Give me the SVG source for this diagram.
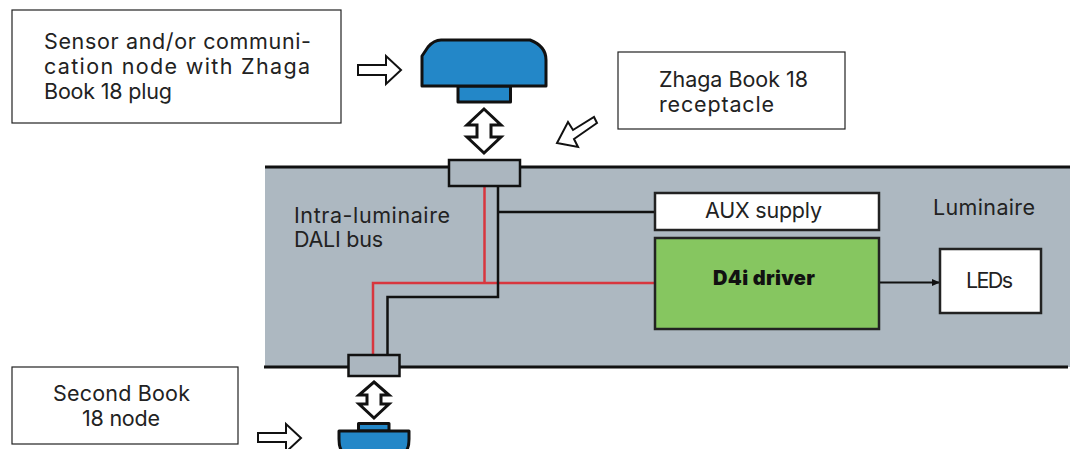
<svg xmlns="http://www.w3.org/2000/svg" width="1070" height="449" viewBox="0 0 1070 449">
<defs>
<marker id="ah" markerUnits="userSpaceOnUse" markerWidth="9" markerHeight="9" refX="8" refY="4" orient="auto"><path d="M0,0.5 L8,4 L0,7.500 Z" fill="#111"/></marker>
</defs>
<style>
text{font-family:"Inter","Liberation Sans",sans-serif;font-size:21.500px;fill:#222}
.box{fill:#fff;stroke:#222;stroke-width:1.200}
.bb{stroke:#111;stroke-width:3}
.blk{fill:none;stroke:#111;stroke-width:2.500}
.red{fill:none;stroke:#d8363e;stroke-width:2.500}
.open{fill:#fff;stroke:#111;stroke-width:3;stroke-linejoin:miter}
.thin{stroke-width:2}
.blue{fill:#2387c8;stroke:#111;stroke-width:3;stroke-linejoin:round}
.conn{fill:#abb6bf;stroke:#111;stroke-width:2.500}
</style>
<rect id="luminaire-body" x="265" y="168" width="805" height="199" fill="#adb8c1"/>
<g id="luminaire-edges">
<line class="bb" x1="265" y1="167" x2="1070" y2="167"/>
<line class="bb" x1="264" y1="367" x2="1068" y2="367"/>
</g>
<g id="connectors">
<path class="red" d="M484.500 186V283"/>
<path class="red" d="M373 355V283H655"/>
<path class="blk" d="M498 186V297H387.500V355"/>
<path class="blk" d="M498 212H655"/>
<path d="M880 282.500H940" fill="none" stroke="#111" stroke-width="2" marker-end="url(#ah)"/>
</g>
<g id="node-sensor">
<path class="blue" d="M458 86H510.500V102H458Z"/>
<path class="blue" d="M422 86V56Q426 50 428 47Q434 40 441 40H530Q546 46 546 60V86Z"/>
</g>
<g id="node-second">
<path class="blue" d="M358.500 423.500H389V431H358.500Z"/>
<path class="blue" d="M339 431H409V439Q409 449 405 452H343Q339 449 339 439Z"/>
</g>
<g id="receptacle-top"><rect class="conn" x="449" y="160" width="71" height="26"/></g>
<g id="receptacle-bottom"><rect class="conn" x="348.500" y="355" width="51" height="21"/></g>
<g id="label-sensor"><rect class="box" x="12" y="10" width="329" height="113"/>
<text x="44" y="49" textLength="267">Sensor and/or communi-</text><text x="44" y="74" textLength="266">cation node with Zhaga</text><text x="44" y="99" textLength="128">Book 18 plug</text></g>
<g id="label-receptacle"><rect class="box" x="618" y="52" width="227" height="77"/>
<text x="659" y="87" textLength="149">Zhaga Book 18</text><text x="659" y="112" textLength="115">receptacle</text></g>
<g id="label-second"><rect class="box" x="12" y="367" width="226" height="77"/>
<text x="53" y="401" textLength="137">Second Book</text><text x="82" y="426" textLength="78">18 node</text></g>
<g id="label-bus"><text x="294" y="223" textLength="156">Intra-luminaire</text><text x="294" y="247" textLength="89">DALI bus</text></g>
<g id="label-luminaire"><text x="933" y="215" textLength="102">Luminaire</text></g>
<g id="node-aux"><rect x="655" y="193" width="224" height="37" fill="#fff" stroke="#222" stroke-width="2.500"/><text x="705" y="218" textLength="117">AUX supply</text></g>
<g id="node-driver"><rect x="655" y="238" width="224" height="91" fill="#86c660" stroke="#222" stroke-width="2.500"/><text x="713" y="285" textLength="102" style="font-size:20px;font-weight:900;fill:#111">D4i driver</text></g>
<g id="node-leds"><rect x="940" y="249" width="101" height="64" fill="#fff" stroke="#222" stroke-width="2.500"/><text x="966" y="288" textLength="47">LEDs</text></g>
<g id="arrows">
<path class="open thin" d="M358 65H386V56L401 70L386 84V75H358Z"/>
<path class="open thin" d="M258 433H286V424L301 438L286 452V442H258Z"/>
<path class="open thin" d="M597 123L594 117L573 130L568 122L557 143L578 147L574 139Z"/>
<path class="open" d="M484 109L501 125H491V137H501L484 153L467 137H477V125H467Z"/>
<path class="open" d="M374 382L389 395H381V404H389L374 418L359 404H367V395H359Z"/>
</g>
</svg>
